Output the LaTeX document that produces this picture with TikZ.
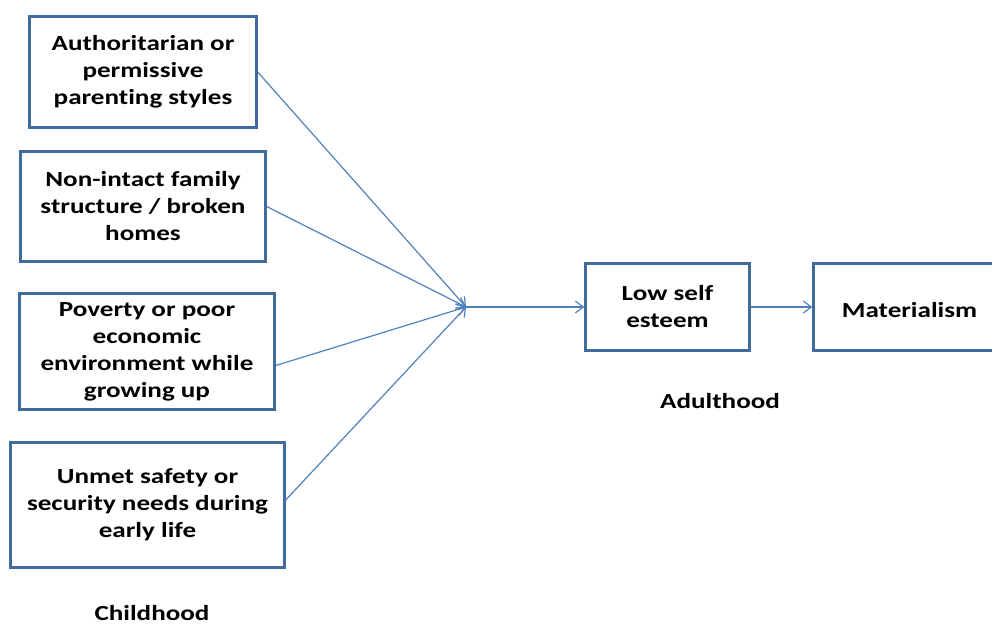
\documentclass[tikz,border=0pt]{standalone}
\usepackage{fontspec}
\setmainfont{Carlito}[FakeStretch=1.26, Ligatures=NoCommon]
\usetikzlibrary{arrows.meta}
\definecolor{boxline}{RGB}{65,106,157}
\definecolor{linkblue}{RGB}{79,129,189}
\begin{document}
\begin{tikzpicture}[x=1pt,y=-1pt,
  box/.style={draw=boxline, line width=2.4pt, inner sep=0pt, align=center,
    font=\fontsize{21.5}{27}\selectfont\bfseries,
    execute at begin node={\rule{0pt}{22pt}}},
  stage/.style={inner sep=0pt, font=\fontsize{21.5}{27}\selectfont\bfseries},
  conn/.style={draw=linkblue, line width=1.2pt,
    -{Straight Barb[length=8pt,width=12pt,line width=1.2pt]}}]
\useasboundingbox (0,0) rectangle (992,625);

% childhood factors
\node[box, minimum width=227pt, minimum height=111pt] (b1) at (143,72)
  {Authoritarian or\\permissive\\parenting styles};
\node[box, minimum width=245pt, minimum height=110pt] (b2) at (143,206.5)
  {Non-intact family\\structure / broken\\homes};
\node[box, minimum width=255pt, minimum height=116pt] (b3) at (147,351.5)
  {Poverty or poor\\economic\\environment while\\growing up};
\node[box, minimum width=274pt, minimum height=125pt] (b4) at (147.5,505)
  {Unmet safety or\\security needs during\\early life};

% adulthood outcomes
\node[box, minimum width=164pt, minimum height=87pt] (low) at (667.5,307)
  {Low self\\esteem};
\node[box, minimum width=192pt, minimum height=87pt] (mat) at (909.5,307)
  {Materialism};

% stage labels
\node[stage] (child) at (152,613) {Childhood};
\node[stage] (adult) at (720,401) {Adulthood};

% converging connectors
\coordinate (hub) at (466,307);
\draw[conn] (b1.east) -- (hub);
\draw[conn] (b2.east) -- (hub);
\draw[conn] ([yshift=-14pt]b3.east) -- (hub);
\draw[conn] ([yshift=5pt]b4.east) -- (hub);
\draw[conn] (hub) -- (low.west);
\draw[conn] (low.east) -- (mat.west);
\end{tikzpicture}
\end{document}
